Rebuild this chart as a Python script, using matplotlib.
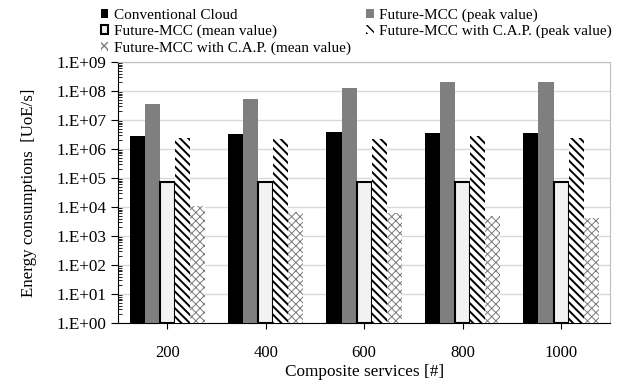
import numpy as np
import matplotlib
matplotlib.use("Agg")
import matplotlib.pyplot as plt
from matplotlib.ticker import LogLocator, FixedLocator, NullFormatter

plt.rcParams['font.family'] = ['Liberation Serif', 'DejaVu Serif']

categories = ["200", "400", "600", "800", "1000"]
conventional = [2.8e6, 3.3e6, 3.9e6, 3.5e6, 3.6e6]
mcc_peak = [3.7e7, 5.1e7, 1.3e8, 2.1e8, 2.1e8]
mcc_mean = [7.4e4, 7.4e4, 7.4e4, 7.4e4, 7.4e4]
cap_peak = [2.4e6, 2.3e6, 2.2e6, 2.8e6, 2.4e6]
cap_mean = [1.1e4, 6.9e3, 6.0e3, 4.9e3, 4.3e3]
yticklabels = ["1.E+00", "1.E+01", "1.E+02", "1.E+03", "1.E+04", "1.E+05",
               "1.E+06", "1.E+07", "1.E+08", "1.E+09"]

fig = plt.figure(figsize=(6.24, 3.85), dpi=100)
ax = fig.add_axes([0.189, 0.161, 0.789, 0.678])

x = np.arange(len(categories))
w = 0.153
offs = np.array([-2, -1, 0, 1, 2]) * w

def make_bar(xs, vals, label, hatch_lw=1.0, **kw):
    with plt.rc_context({'hatch.linewidth': hatch_lw}):
        bc = ax.bar(xs, vals, w, bottom=1, label=label, zorder=3, **kw)
    for p in bc:
        if hasattr(p, 'set_hatch_linewidth'):
            p.set_hatch_linewidth(hatch_lw)
    return bc

b1 = make_bar(x + offs[0], conventional, "Conventional Cloud", color='black')
b2 = make_bar(x + offs[1], mcc_peak, "Future-MCC (peak value)", color='#7f7f7f')
b3 = make_bar(x + offs[2], mcc_mean, "Future-MCC (mean value)", facecolor='#f2f2f2',
              edgecolor='black', linewidth=1.5)
b4 = make_bar(x + offs[3], cap_peak, "Future-MCC with C.A.P. (peak value)", facecolor='white',
              edgecolor='black', linewidth=0, hatch='\\\\\\\\', hatch_lw=1.4)
b5 = make_bar(x + offs[4], cap_mean, "Future-MCC with C.A.P. (mean value)", facecolor='white',
              edgecolor='#7a7a7a', linewidth=0, hatch='xxxx', hatch_lw=0.7)

ax.set_yscale('log')
ax.set_ylim(1, 1e9)
ax.set_xlim(-0.5, 4.5)
ax.yaxis.set_major_locator(FixedLocator([10.0**i for i in range(10)]))
ax.set_yticklabels(yticklabels)
ax.yaxis.set_minor_locator(LogLocator(base=10, subs=np.arange(2, 10), numticks=100))
ax.yaxis.set_minor_formatter(NullFormatter())
ax.set_xticks(x)
ax.set_xticklabels(categories)

ax.grid(axis='y', which='major', color='#d9d9d9', linewidth=1.0, zorder=0)
ax.set_axisbelow(True)
for s in ['top', 'right']:
    ax.spines[s].set_color('#bfbfbf')
ax.spines['left'].set_color('black')
ax.spines['bottom'].set_color('black')
ax.tick_params(axis='y', which='major', direction='out', length=5, labelsize=12.3, pad=3)
ax.tick_params(axis='y', which='minor', direction='in', length=3)
ax.tick_params(axis='x', which='major', direction='out', length=4, labelsize=12, pad=12)

ax.set_ylabel("Energy consumptions  [UoE/s]", fontsize=12.2, labelpad=14)
ax.set_xlabel("Composite services [#]", fontsize=12.4, labelpad=2)

handles = [b1, b3, b5, b2, b4]
labels = [h.get_label() for h in handles]
fig.legend(handles, labels, loc='upper left', bbox_to_anchor=(0.148, 1.0), ncol=2,
           frameon=False, fontsize=11, handlelength=0.5, handleheight=0.55,
           handletextpad=0.35, columnspacing=1.0, labelspacing=0.2, borderaxespad=0.15)

fig.savefig("out.png", dpi=100)
